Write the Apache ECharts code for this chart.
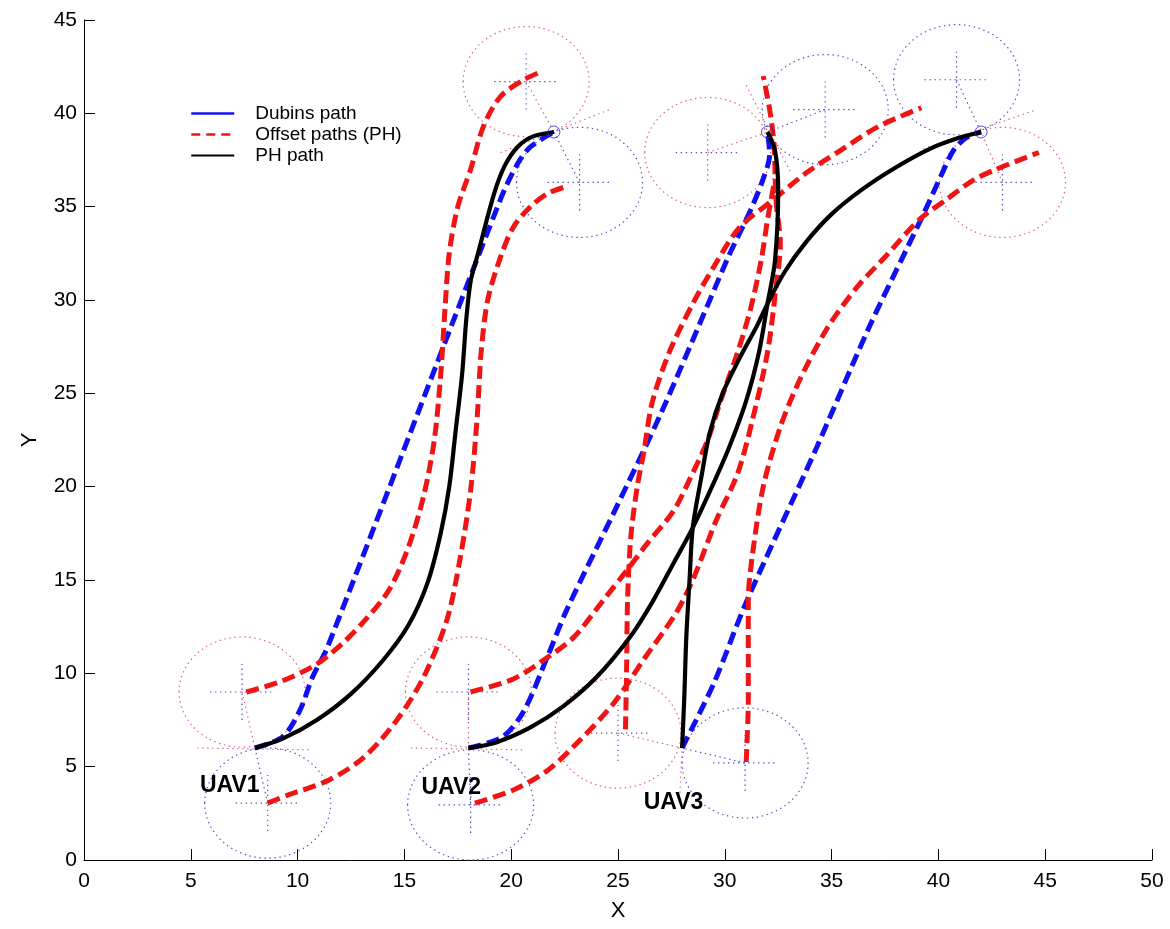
<!DOCTYPE html>
<html>
<head>
<meta charset="utf-8">
<title>UAV paths</title>
<script src="https://cdn.jsdelivr.net/npm/echarts@6/dist/echarts.min.js"></script>
<style>
  html, body { margin: 0; padding: 0; background: #fff; }
  #chart { width: 1170px; height: 929px; }
</style>
</head>
<body>
<div id="chart"></div>
<script>
// axes
var xTicks = [0, 5, 10, 15, 20, 25, 30, 35, 40, 45, 50];
var yTicks = [0, 5, 10, 15, 20, 25, 30, 35, 40, 45];

// Dubins paths (blue dashed)
var dubins1 = [[8,6],[9.3,6.6],[10.1,8],[10.7,9.8],[11.4,11.4],[19.5,35.4],[20.3,37.3],[20.9,38.2],[22,39]];
var dubins2 = [[18,6],[19.6,6.6],[20.6,8],[21.7,10.9],[22.6,13.4],[24.8,18.6],[27,23.9],[29.3,30],[30.2,32.4],[31.2,34.8],[31.8,36.5],[32.1,37.8],[32,39]];
var dubins3 = [[28,6],[29.5,9.5],[31,13.8],[34.3,22.1],[36.7,28.4],[38.5,32.7],[39.3,34.6],[40.1,36.6],[40.7,38],[41.3,38.7],[42,39]];

// PH paths (black)
var ph1 = [[8,6],[9.3,6.5],[10.9,7.5],[12.5,8.9],[14,10.7],[15.2,12.6],[16.1,14.9],[16.7,17.5],[17.1,20],[17.4,23],[17.7,26],[17.9,29],[18.1,31],[18.4,32.3],[19.2,35.7],[19.7,37.2],[20.3,38.2],[21,38.75],[22,39]];
var ph2 = [[18,6],[19.3,6.3],[20.9,7.1],[22.4,8.2],[24,9.8],[25.6,12],[26.6,13.8],[27.6,15.9],[28.5,17.8],[29.4,20],[30.2,22.1],[31,24.6],[31.6,27.2],[32,29.8],[32.35,32.1],[32.5,35.9],[32.35,38],[32,39]];
var ph3 = [[28,6],[28.1,8.6],[28.2,12],[28.35,15],[28.5,17.8],[28.9,20.5],[29.3,22.9],[29.9,25],[30.7,26.9],[31.5,28.6],[32,29.8],[32.8,31.5],[33.8,33.1],[35,34.6],[36.4,35.9],[38,37.1],[39.6,38.1],[41,38.7],[42,39]];

// Offset paths (red dashed)
var off1L = [[7.6,9],[9.3,9.6],[10.9,10.5],[12.1,11.6],[13.2,12.9],[14.3,14.5],[15.2,16.8],[15.9,19.5],[16.4,22.5],[16.7,26],[16.9,29.5],[17.1,32.5],[17.5,35],[18.1,37],[18.7,39.3],[19.5,40.9],[20.6,41.8],[21.35,42.2]];
var off1R = [[8.6,3.05],[9.6,3.5],[11.5,4.3],[13.1,5.5],[14.65,7.5],[15.9,9.8],[17,12.9],[17.6,16.1],[18.1,19.8],[18.4,23.6],[18.6,27.3],[18.9,30],[19.5,32.3],[20.1,33.9],[20.9,35],[21.7,35.7],[22.5,36.05]];
var off2L = [[18.1,9],[20.1,9.7],[21.5,10.7],[22.9,11.9],[24.3,13.9],[25.4,15.5],[26.4,17],[27.6,18.7],[28.4,20.5],[29.2,22.5],[29.8,24.6],[30.6,27.2],[31.2,29.5],[31.7,32.1],[32,34.3],[32.35,36.5]];
var off2R = [[18.3,3.05],[20.1,3.75],[21.7,4.8],[23.2,6.4],[24.8,8.4],[26.3,10.9],[27.7,13.2],[28.5,15],[29.6,18.2],[30.6,20.7],[31.3,23.6],[32,27.2],[32.4,30.7],[32.6,33],[32.4,35.3],[32.3,38.4],[32.1,40.2],[31.8,42]];
var off3L = [[25.35,7],[25.4,10],[25.45,14],[25.6,17.3],[25.9,20],[26.2,21.8],[26.6,24.5],[27.4,27.2],[28.5,29.8],[29.6,32],[30.7,33.9],[32.3,35.4],[33.8,36.8],[35.4,38],[37.2,39.3],[39.2,40.3]];
var off3R = [[31,5.25],[31.1,8.6],[31.1,13.9],[31.3,16.4],[31.8,20],[32.6,23.2],[33.5,25.7],[34.8,28.5],[36.2,30.7],[37.5,32.3],[39.1,34.3],[40.4,35.4],[41.6,36.4],[42.7,37],[44.7,37.9]];

// start / goal points and their turning circles (same order)
var nodes = [[8,6],[18,6],[28,6],[22,39],[32,39],[42,39]];
var goals = [[22,39],[32,39],[42,39]];
var circlesRed = [[7.4,9],[18,9],[25,6.8],[20.7,41.7],[29.2,37.9],[43,36.3]];
var circlesBlue = [[8.6,3.05],[18.1,2.95],[30.95,5.2],[23.2,36.3],[34.7,40.2],[40.85,41.8]];
var headingLines = [[5.3,6,10.6,5.9],[15.3,6,20.6,5.9],[27.9,3.6,28.1,8.5],[19.5,37.9,24.6,40.2],[31,41.5,33.1,36.8],[39.3,38.1,44.6,40.2]];
var turnRadius = 2.95;
var crossHalf = 1.5;

var uavNames = ['UAV1', 'UAV2', 'UAV3'];
var uavLabelAt = [[5.43,4.0],[15.8,3.85],[26.2,3.05]];

var FONT = '"Liberation Sans", Arial, sans-serif';
var RED = '#f01414';
var BLUE = '#1010f0';
var DOT_RED = '#d8607a';
var DOT_BLUE = '#5050c8';

function radiusSegs(centers) {
    var out = [];
    for (var i = 0; i < centers.length; i++) {
        out.push([centers[i][0], centers[i][1], nodes[i][0], nodes[i][1]]);
    }
    return out;
}

function crossSegs(centers) {
    var out = [];
    for (var i = 0; i < centers.length; i++) {
        var c = centers[i];
        out.push([c[0] - crossHalf, c[1], c[0] + crossHalf, c[1]]);
        out.push([c[0], c[1] - crossHalf, c[0], c[1] + crossHalf]);
    }
    return out;
}

function circleSeries(centers, color) {
    return {
        type: 'custom', silent: true, z: 1,
        renderItem: function (params, api) {
            var c = api.coord([api.value(0), api.value(1)]);
            var s = api.size([turnRadius, turnRadius]);
            return {
                type: 'ellipse',
                shape: { cx: c[0], cy: c[1], rx: s[0], ry: s[1] },
                style: { fill: 'none', stroke: color, lineWidth: 1.2, lineDash: [1.4, 3.6] }
            };
        },
        data: centers
    };
}

function segSeries(segs, color) {
    return {
        type: 'custom', silent: true, z: 1,
        renderItem: function (params, api) {
            var a = api.coord([api.value(0), api.value(1)]);
            var b = api.coord([api.value(2), api.value(3)]);
            return {
                type: 'line',
                shape: { x1: a[0], y1: a[1], x2: b[0], y2: b[1] },
                style: { stroke: color, lineWidth: 1.2, lineDash: [1.4, 3.6] }
            };
        },
        data: segs
    };
}

function pathSeries(name, data, color, dashed, z) {
    return {
        name: name, type: 'line', data: data, z: z,
        symbol: 'none', smooth: 0.3, silent: true,
        lineStyle: { color: color, width: dashed ? 5 : 4.2, type: dashed ? [13, 6] : 'solid', cap: 'butt' },
        itemStyle: { color: color }
    };
}

var series = [
    circleSeries(circlesRed, DOT_RED),
    circleSeries(circlesBlue, DOT_BLUE),
    segSeries(crossSegs(circlesRed.concat(circlesBlue)), DOT_BLUE),
    segSeries(radiusSegs(circlesRed), DOT_RED),
    segSeries(radiusSegs(circlesBlue), DOT_BLUE),
    segSeries(headingLines, DOT_RED),
    pathSeries('Dubins path', dubins1, BLUE, true, 3),
    pathSeries('Dubins path', dubins2, BLUE, true, 3),
    pathSeries('Dubins path', dubins3, BLUE, true, 3),
    pathSeries('Offset paths (PH)', off1L, RED, true, 4),
    pathSeries('Offset paths (PH)', off1R, RED, true, 4),
    pathSeries('Offset paths (PH)', off2L, RED, true, 4),
    pathSeries('Offset paths (PH)', off2R, RED, true, 4),
    pathSeries('Offset paths (PH)', off3L, RED, true, 4),
    pathSeries('Offset paths (PH)', off3R, RED, true, 4),
    pathSeries('PH path', ph1, '#000', false, 5),
    pathSeries('PH path', ph2, '#000', false, 5),
    pathSeries('PH path', ph3, '#000', false, 5),
    {
        type: 'scatter', data: goals, z: 6, silent: true,
        symbol: 'circle', symbolSize: 12,
        itemStyle: { color: 'rgba(0,0,0,0)', borderColor: '#2a2ac8', borderWidth: 1 }
    },
    // UAV names, drawn as plain text at their anchor
    {
        type: 'custom', z: 7, silent: true,
        renderItem: function (params, api) {
            var p = api.coord([api.value(0), api.value(1)]);
            return {
                type: 'text', x: p[0], y: p[1],
                style: {
                    text: uavNames[params.dataIndex], fill: '#000',
                    font: 'bold 23px ' + FONT, align: 'left', verticalAlign: 'middle'
                }
            };
        },
        data: uavLabelAt
    }
];

var chart = echarts.init(document.getElementById('chart'));

chart.setOption({
    animation: false,
    backgroundColor: '#fff',
    grid: { left: 84, right: 18, top: 20, bottom: 69 },
    legend: {
        orient: 'vertical', left: 190, top: 103, padding: 0,
        itemWidth: 43, itemHeight: 14, itemGap: 0,
        selectedMode: false,
        itemStyle: { opacity: 0 },
        textStyle: { fontSize: 19, color: '#000', fontFamily: FONT, lineHeight: 21, padding: [0, 0, 0, 16] },
        data: [
            { name: 'Dubins path', lineStyle: { type: 'solid', width: 2.5 } },
            { name: 'Offset paths (PH)', lineStyle: { type: [9, 6], width: 2.5 } },
            { name: 'PH path', lineStyle: { width: 2.2 } }
        ]
    },
    xAxis: {
        type: 'value',
        min: xTicks[0], max: xTicks[xTicks.length - 1], interval: xTicks[1] - xTicks[0],
        name: 'X', nameLocation: 'middle', nameGap: 40,
        nameTextStyle: { fontSize: 22, color: '#000', fontFamily: FONT },
        axisLine: { lineStyle: { color: '#000', width: 1 } },
        axisTick: { inside: true, length: 11, lineStyle: { color: '#000' } },
        axisLabel: { fontSize: 21, color: '#000', fontFamily: FONT, margin: 11 },
        splitLine: { show: false }
    },
    yAxis: {
        type: 'value',
        min: yTicks[0], max: yTicks[yTicks.length - 1], interval: yTicks[1] - yTicks[0],
        name: 'Y', nameLocation: 'middle', nameGap: 43,
        nameTextStyle: { fontSize: 22, color: '#000', fontFamily: FONT },
        axisLine: { show: true, lineStyle: { color: '#000', width: 1 } },
        axisTick: { show: true, inside: true, length: 11, lineStyle: { color: '#000' } },
        axisLabel: { fontSize: 21, color: '#000', fontFamily: FONT, margin: 7 },
        splitLine: { show: false }
    },
    series: series
});
</script>
</body>
</html>
